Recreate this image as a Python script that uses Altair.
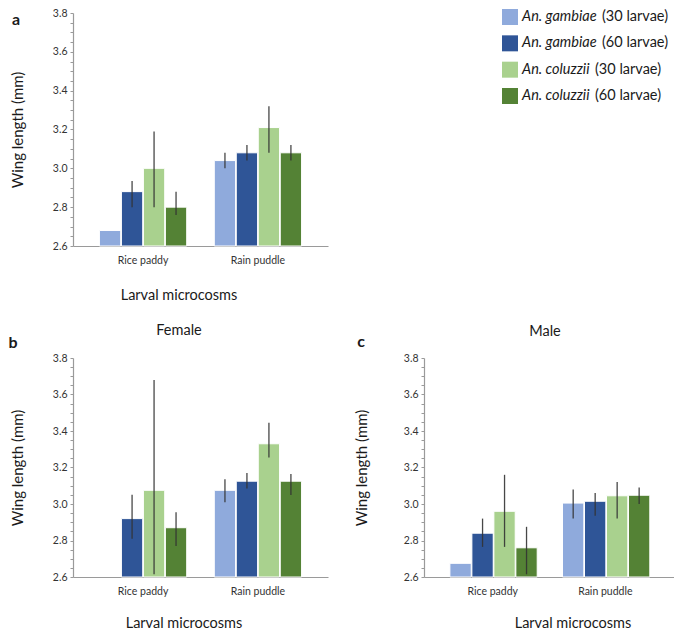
import altair as alt
import pandas as pd

sites = ["Rice paddy", "Rain puddle"]
series = ["An. gambiae (30 larvae)", "An. gambiae (60 larvae)",
          "An. coluzzii (30 larvae)", "An. coluzzii (60 larvae)"]
species = ["An. gambiae", "An. gambiae", "An. coluzzii", "An. coluzzii"]
density = ["(30 larvae)", "(60 larvae)", "(30 larvae)", "(60 larvae)"]
colors = ["#8FAADC", "#2F5597", "#A9D18E", "#548235"]

# panel a (all)
a_rice_mean = [2.68, 2.88, 3.00, 2.80]
a_rice_lo = [None, 2.80, 2.80, 2.76]
a_rice_hi = [None, 2.935, 3.19, 2.88]
a_rain_mean = [3.04, 3.08, 3.21, 3.08]
a_rain_lo = [3.00, 3.04, 3.08, 3.04]
a_rain_hi = [3.08, 3.12, 3.32, 3.12]

# panel b (female)
b_rice_mean = [None, 2.92, 3.075, 2.87]
b_rice_lo = [None, 2.81, 2.615, 2.77]
b_rice_hi = [None, 3.05, 3.68, 2.955]
b_rain_mean = [3.075, 3.125, 3.33, 3.125]
b_rain_lo = [3.01, 3.085, 3.255, 3.05]
b_rain_hi = [3.135, 3.17, 3.445, 3.165]

# panel c (male)
c_rice_mean = [2.675, 2.84, 2.96, 2.76]
c_rice_lo = [None, 2.765, 2.765, 2.615]
c_rice_hi = [None, 2.92, 3.16, 2.875]
c_rain_mean = [3.005, 3.015, 3.045, 3.048]
c_rain_lo = [2.92, 2.935, 2.92, 3.00]
c_rain_hi = [3.08, 3.06, 3.12, 3.09]

y_ticks = [2.6, 2.65, 2.7, 2.75, 2.8, 2.85, 2.9, 2.95, 3.0, 3.05, 3.1, 3.15,
           3.2, 3.25, 3.3, 3.35, 3.4, 3.45, 3.5, 3.55, 3.6, 3.65, 3.7, 3.75, 3.8]
y_base = 2.6

FONT = "Lato"


def frame(rm, rl, rh, pm, pl, ph):
    rows = []
    for site, m, l, h in [(sites[0], rm, rl, rh), (sites[1], pm, pl, ph)]:
        for s, mv, lv, hv in zip(series, m, l, h):
            rows.append({"site": site, "series": s, "mean": mv, "lo": lv, "hi": hv})
    return pd.DataFrame(rows)


def text_layer(txt, x, y, size, weight="normal", angle=0):
    return alt.Chart(pd.DataFrame({"t": [txt]})).mark_text(
        font=FONT, fontSize=size, fontWeight=weight, color="#1a1a1a",
        align="center", baseline="middle", angle=angle
    ).encode(text="t:N", x=alt.value(x), y=alt.value(y))


def panel(df, w, h, letter, lxy, title, txy, xt_xy, ypad):
    xenc = alt.X("site:N", sort=sites, title=None,
                 scale=alt.Scale(paddingInner=0.24, paddingOuter=0.23),
                 axis=alt.Axis(labelAngle=0, ticks=False, domainColor="#9a9a9a",
                               domainWidth=1.2, labelPadding=9, labelFontSize=10.5,
                               labelColor="#333333", labelFont=FONT))
    xo = alt.XOffset("series:N", sort=series,
                     scale=alt.Scale(domain=series, paddingInner=0.03))
    yaxis = alt.Axis(values=y_ticks, labelOverlap=False,
                     labelExpr="round(datum.value*100) % 20 == 0 ? format(datum.value, '.1f') : ''",
                     domainColor="#9a9a9a", domainWidth=1.2, tickColor="#9a9a9a",
                     tickSize=3, labelPadding=3, labelFontSize=10.5, labelColor="#333333",
                     labelFont=FONT, titleFont=FONT, titleFontSize=15,
                     titleFontWeight="normal", titleColor="#1a1a1a", titlePadding=ypad,
                     grid=False)
    yscale = alt.Scale(domain=[2.6, 3.8], zero=False, nice=False)
    bars = alt.Chart(df).transform_filter("isValid(datum.mean)").mark_bar(
        stroke="white", strokeWidth=1
    ).encode(
        x=xenc, xOffset=xo,
        y=alt.Y("mean:Q", scale=yscale, title="Wing length (mm)", axis=yaxis),
        y2=alt.datum(y_base),
        color=alt.Color("series:N", scale=alt.Scale(domain=series, range=colors), legend=None),
    )
    err = alt.Chart(df).transform_filter("isValid(datum.lo)").mark_rule(
        color="#333333", strokeWidth=1.3, opacity=0.9
    ).encode(
        x=xenc, xOffset=xo,
        y=alt.Y("lo:Q", scale=yscale, title="Wing length (mm)", axis=yaxis),
        y2="hi:Q",
    )
    layers = [bars, err,
              text_layer(letter, lxy[0], lxy[1], 16, "bold"),
              text_layer("Larval microcosms", xt_xy[0], xt_xy[1], 14.5)]
    if title:
        layers.append(text_layer(title, txy[0], txy[1], 14.5))
    return alt.layer(*layers).properties(width=w, height=h)


df_a = frame(a_rice_mean, a_rice_lo, a_rice_hi, a_rain_mean, a_rain_lo, a_rain_hi)
df_b = frame(b_rice_mean, b_rice_lo, b_rice_hi, b_rain_mean, b_rain_lo, b_rain_hi)
df_c = frame(c_rice_mean, c_rice_lo, c_rice_hi, c_rain_mean, c_rain_lo, c_rain_hi)

pa = panel(df_a, 255, 233, "a", (-57, 7), None, None, (106, 283), 27)
pb = panel(df_b, 255, 219, "b", (-60, -15), "Female", (106, -27), (111, 266), 27)
pc = panel(df_c, 250, 219, "c", (-63, -16), "Male", (121, -26), (149, 266), 34)

# custom legend (italic species name + plain density)
leg_df = pd.DataFrame({"series": series, "species": species, "density": density})
ly = alt.Y("series:N", sort=series, axis=None,
           scale=alt.Scale(type="point", domain=series, range=[4, 83], padding=0))
leg_base = alt.Chart(leg_df)
sq = leg_base.mark_square(size=256, opacity=1).encode(
    y=ly, x=alt.value(86),
    color=alt.Color("series:N", scale=alt.Scale(domain=series, range=colors), legend=None))
sp = leg_base.mark_text(align="left", baseline="middle", font=FONT, fontSize=14.5,
                        fontStyle="italic", color="#1a1a1a").encode(
    y=ly, x=alt.value(98), text="species:N")
dn_g = leg_base.transform_filter("datum.species == 'An. gambiae'").mark_text(
    align="left", baseline="middle", font=FONT, fontSize=14.5, color="#1a1a1a").encode(
    y=ly, x=alt.value(178), text="density:N")
dn_c = leg_base.transform_filter("datum.species == 'An. coluzzii'").mark_text(
    align="left", baseline="middle", font=FONT, fontSize=14.5, color="#1a1a1a").encode(
    y=ly, x=alt.value(171), text="density:N")
legend = alt.layer(sq, sp, dn_g, dn_c).properties(width=250, height=86)

chart = alt.concat(pa, legend, pb, pc, columns=2,
                   spacing={"row": 20, "column": 26}).properties(
    padding=0
).configure_view(stroke=None)

chart.save("out.html", embed_options={"renderer": "svg", "actions": False})
